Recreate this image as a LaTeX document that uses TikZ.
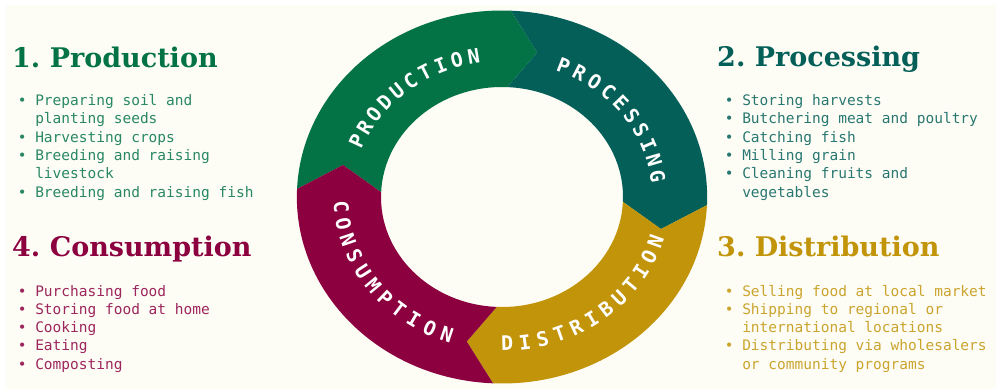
\documentclass[tikz,border=0pt]{standalone}
\usepackage{fontspec}
\newfontfamily\headfont{DejaVu Serif}
\newfontfamily\monofont{DejaVu Sans Mono}
\definecolor{prodgreen}{HTML}{037346}
\definecolor{procteal}{HTML}{035F58}
\definecolor{distgold}{HTML}{C29409}
\definecolor{consmaroon}{HTML}{8C0040}
\definecolor{cream}{HTML}{FDFDF5}
\newcommand\contline{\hphantom{\textbullet\ }}
\frenchspacing
\begin{document}
\begin{tikzpicture}[x=1pt,y=1pt,
  heading/.style={font=\fontsize{27}{32}\selectfont\headfont\bfseries, anchor=base west, inner sep=0pt},
  listline/.style={font=\fontsize{14.5}{18.3}\selectfont\monofont, anchor=base west, inner sep=0pt},
  ringletter/.style={font=\fontsize{20}{20}\selectfont\monofont\bfseries, text=white, inner sep=0pt, text height=14.6pt, text depth=0pt, anchor=center}]
\fill[white] (0,0) rectangle (996,-389);
\fill[cream] (6,-5) rectangle (996,-389);
\useasboundingbox (0,0) rectangle (996,-389);

% ring
\begin{scope}[shift={(502pt,-197pt)}, x=1.1pt, y=1pt]
  \foreach \col/\sa/\ea in {prodgreen/177.5/87.5, procteal/87.5/-2.5, distgold/-2.5/-92.5, consmaroon/267.5/177.5} {
    \fill[\col] (\sa:186.5) arc[start angle=\sa, end angle=\ea, x radius=205.15pt, y radius=186.5pt]
      -- ({\ea-10}:148) -- (\ea:110)
      arc[start angle=\ea, end angle=\sa, x radius=121pt, y radius=110pt]
      -- ({\sa-10}:148) -- cycle;
  }
  % top words, clockwise
  \foreach \ch [count=\i] in {P,R,O,D,U,C,T,I,O,N} {
    \pgfmathsetmacro\ang{128.75 + 11/2*6.3 - \i*6.3}
    \pgfmathsetmacro\rot{atan2(-cos(\ang), 1.1*sin(\ang))}
    \node[ringletter, rotate=\rot] (prod\i) at (\ang:143) {\ch};
  }
  \foreach \ch [count=\i] in {P,R,O,C,E,S,S,I,N,G} {
    \pgfmathsetmacro\ang{37.7 + 11/2*6.5 - \i*6.5}
    \pgfmathsetmacro\rot{atan2(-cos(\ang), 1.1*sin(\ang))}
    \node[ringletter, rotate=\rot] (proc\i) at (\ang:143) {\ch};
  }
  % bottom words, counter-clockwise
  \foreach \ch [count=\i] in {D,I,S,T,R,I,B,U,T,I,O,N} {
    \pgfmathsetmacro\ang{-53 - 13/2*6.4 + \i*6.4}
    \pgfmathsetmacro\rot{atan2(cos(\ang), -1.1*sin(\ang))}
    \node[ringletter, rotate=\rot] (dist\i) at (\ang:146.5) {\ch};
  }
  \foreach \ch [count=\i] in {C,O,N,S,U,M,P,T,I,O,N} {
    \pgfmathsetmacro\ang{217 - 12/2*6.6 + \i*6.6}
    \pgfmathsetmacro\rot{atan2(cos(\ang), -1.1*sin(\ang))}
    \node[ringletter, rotate=\rot] (cons\i) at (\ang:146.5) {\ch};
  }
\end{scope}

% headings
\node[heading, text=prodgreen] (hprod) at (12,-67) {1. Production};
\node[heading, text=procteal] (hproc) at (717,-66) {2. Processing};
\node[heading, text=distgold] (hdist) at (717,-256) {3. Distribution};
\node[heading, text=consmaroon] (hcons) at (12,-256) {4. Consumption};

% lists
\foreach \t [count=\i] in {\textbullet\ Preparing soil and, \contline planting seeds, \textbullet\ Harvesting crops, \textbullet\ Breeding and raising, \contline livestock, \textbullet\ Breeding and raising fish} {
  \node[listline, text=prodgreen!85!white] (lprod\i) at (17.6,{-105.5-(\i-1)*18.3}) {\t};
}
\foreach \t [count=\i] in {\textbullet\ Storing harvests, \textbullet\ Butchering meat and poultry, \textbullet\ Catching fish, \textbullet\ Milling grain, \textbullet\ Cleaning fruits and, \contline vegetables} {
  \node[listline, text=procteal!85!white] (lproc\i) at (724.6,{-105.5-(\i-1)*18.3}) {\t};
}
\foreach \t [count=\i] in {\textbullet\ Purchasing food, \textbullet\ Storing food at home, \textbullet\ Cooking, \textbullet\ Eating, \textbullet\ Composting} {
  \node[listline, text=consmaroon!85!white] (lcons\i) at (17.6,{-296-(\i-1)*18.3}) {\t};
}
\foreach \t [count=\i] in {\textbullet\ Selling food at local market, \textbullet\ Shipping to regional or, \contline international locations, \textbullet\ Distributing via wholesalers, \contline or community programs} {
  \node[listline, text=distgold!85!white] (ldist\i) at (724.6,{-296-(\i-1)*18.3}) {\t};
}
\end{tikzpicture}
\end{document}
